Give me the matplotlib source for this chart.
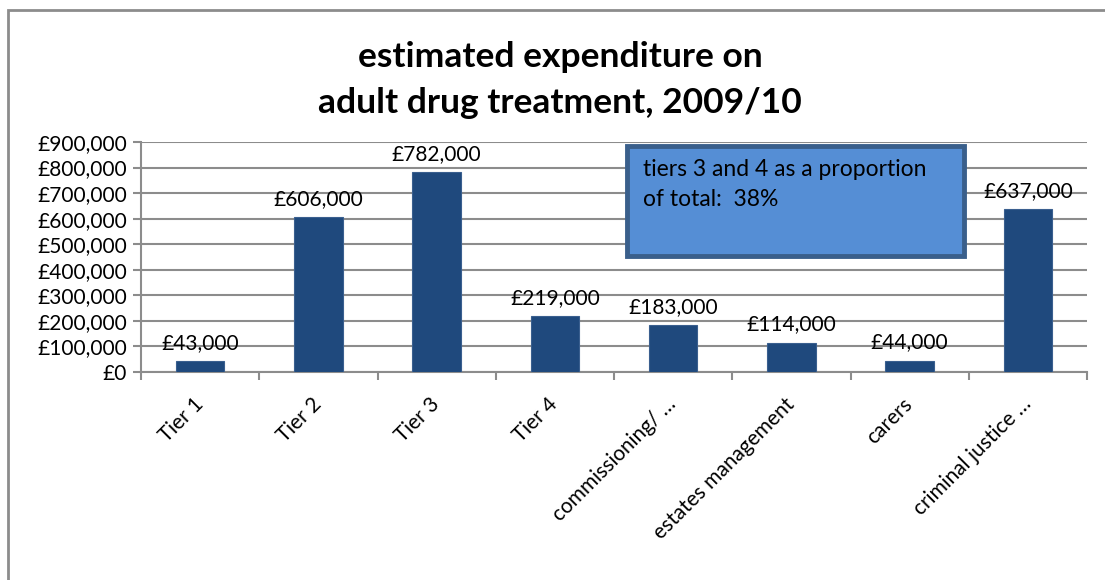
import matplotlib
matplotlib.use("Agg")
import matplotlib.pyplot as plt
from matplotlib.patches import Rectangle, FancyBboxPatch
from matplotlib.ticker import FuncFormatter, MultipleLocator

categories = ["Tier 1", "Tier 2", "Tier 3", "Tier 4", "commissioning/ \u2026",
              "estates management", "carers", "criminal justice \u2026"]
values = [43000, 606000, 782000, 219000, 183000, 114000, 44000, 637000]
title = "estimated expenditure on\nadult drug treatment, 2009/10"
note = "tiers 3 and 4 as a proportion\nof total:  38%"

plt.rcParams['font.family'] = ['Lato', 'DejaVu Sans']

W, H = 1105, 580
fig = plt.figure(figsize=(W / 100, H / 100), dpi=100)
fig.patch.set_facecolor("white")

# outer chart frame
fig.add_artist(Rectangle((8 / W, -0.05), 1.2, 1 - 10 / H + 0.05,
                         transform=fig.transFigure, fill=False,
                         edgecolor="#8c8c8c", linewidth=2))

ax = fig.add_axes([141 / W, 1 - 372 / H, (1087 - 141) / W, (372 - 142) / H])
x = list(range(len(categories)))
ax.bar(x, values, width=0.41, color="#1F497D", edgecolor="#3a5f8f",
       linewidth=0.8, zorder=3)

ax.set_xlim(-0.5, len(categories) - 0.5)
ax.set_ylim(0, 900000)
ax.yaxis.set_major_locator(MultipleLocator(100000))
ax.yaxis.set_major_formatter(FuncFormatter(lambda v, p: f"\u00a3{int(v):,}"))
ax.grid(axis="y", color="#8c8c8c", linewidth=1.5, zorder=0)
ax.set_axisbelow(True)

for s in ["top", "right"]:
    ax.spines[s].set_visible(False)
for s in ["left", "bottom"]:
    ax.spines[s].set_color("#8c8c8c")
    ax.spines[s].set_linewidth(1.5)

ax.tick_params(axis="y", length=6, width=1.5, color="#8c8c8c",
               labelsize=15, pad=4)
ax.set_xticks([i - 0.5 for i in range(len(categories) + 1)])
ax.set_xticklabels([])
ax.tick_params(axis="x", length=6, width=1.5, color="#8c8c8c")

for i, lab in enumerate(categories):
    ax.annotate(lab, xy=(i, 0), xycoords="data", xytext=(0, -21),
                textcoords="offset points", rotation=45, ha="right",
                va="center", rotation_mode="anchor", fontsize=15)

for i, v in enumerate(values):
    ax.annotate(f"\u00a3{v:,}", xy=(i, v), xytext=(0, 6),
                textcoords="offset points", ha="center", va="bottom",
                fontsize=15)

fig.text(0.507, 1 - 80 / H, title, ha="center", va="center",
         fontsize=25.5, fontweight="bold", linespacing=1.55)

# annotation box
box = FancyBboxPatch((627 / W, 1 - 256 / H), (964 - 627) / W, (256 - 146) / H,
                     boxstyle="square,pad=0", transform=fig.transFigure,
                     facecolor="#558ED5", edgecolor="#3A5F8B", linewidth=3.5,
                     zorder=5)
fig.add_artist(box)
fig.text(643 / W, 1 - 159 / H, note, ha="left", va="top", fontsize=16.5,
         linespacing=1.55, zorder=6)

fig.savefig("out.png", dpi=100)
